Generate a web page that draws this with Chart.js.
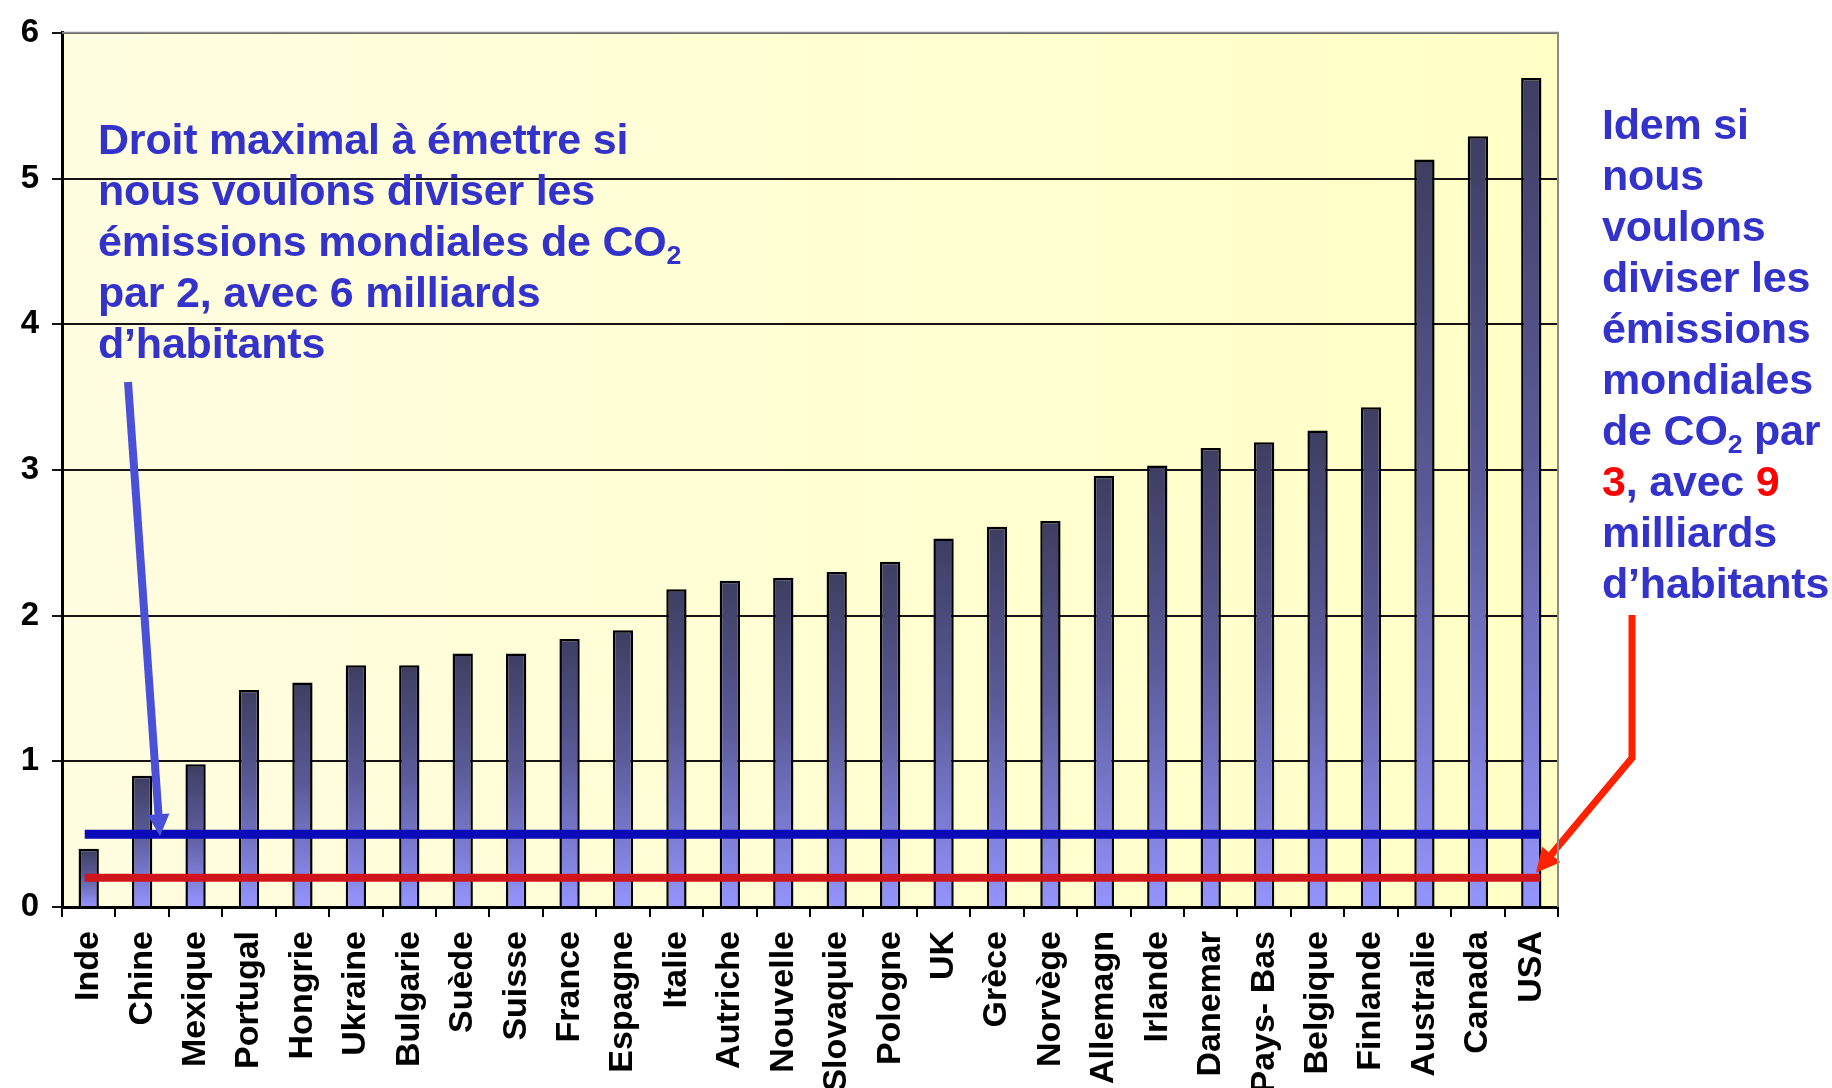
<!DOCTYPE html>
<html lang="fr">
<head>
<meta charset="utf-8">
<title>Émissions de CO2 par habitant</title>
<script src="https://cdn.jsdelivr.net/npm/chart.js@4/dist/chart.umd.min.js"></script>
<style>
  html, body { margin: 0; padding: 0; background: #ffffff; }
  #wrap { position: relative; width: 1832px; height: 1088px; overflow: hidden; }
  canvas { position: absolute; left: 0; top: 0; }
  .note {
    position: absolute;
    font-family: "Liberation Sans", Arial, sans-serif;
    font-weight: bold;
    font-size: 43px;
    letter-spacing: -0.2px;
    line-height: 51px;
    color: #3333cc;
    white-space: nowrap;
  }
  .note sub { font-size: 0.62em; vertical-align: -0.3em; line-height: 0; }
  .red { color: #ff0000; }
</style>
</head>
<body>
<div id="wrap">
  <canvas id="c" width="1832" height="1088"></canvas>
  <div class="note" style="left:98px; top:114px;">
    Droit maximal à émettre si<br>
    nous voulons diviser les<br>
    émissions mondiales de CO<sub>2</sub><br>
    par 2, avec 6 milliards<br>
    d’habitants
  </div>
  <div class="note" style="left:1602px; top:99px;">
    Idem si<br>
    nous<br>
    voulons<br>
    diviser les<br>
    émissions<br>
    mondiales<br>
    de CO<sub>2</sub> par<br>
    <span class="red">3</span>, avec <span class="red">9</span><br>
    milliards<br>
    d’habitants
  </div>
</div>
<script>
// ---- Data ----
const countries = ["Inde", "Chine", "Mexique", "Portugal", "Hongrie", "Ukraine", "Bulgarie", "Suède", "Suisse", "France", "Espagne", "Italie", "Autriche", "Nouvelle", "Slovaquie", "Pologne", "UK", "Grèce", "Norvège", "Allemagn", "Irlande", "Danemar", "Pays- Bas", "Belgique", "Finlande", "Australie", "Canada", "USA"];
const emissions = [0.4, 0.9, 0.98, 1.49, 1.54, 1.66, 1.66, 1.74, 1.74, 1.84, 1.90, 2.18, 2.24, 2.26, 2.30, 2.37, 2.53, 2.61, 2.65, 2.96, 3.03, 3.15, 3.19, 3.27, 3.43, 5.13, 5.29, 5.69];
const yTicks = [0, 1, 2, 3, 4, 5, 6];
const refLevels = [0.5, 0.2];          // division par 2 (6 mds) / par 3 (9 mds)
const refColors = ["#0a0ab8", "#d0141c"];

// ---- Plugins ----
const bgPlugin = {
  id: 'plotBg',
  beforeDraw(chart) {
    const { ctx, chartArea: a } = chart;
    const g = ctx.createLinearGradient(a.left, 0, a.right, 0);
    g.addColorStop(0, '#fffde0');
    g.addColorStop(1, '#ffffc6');
    ctx.save();
    ctx.fillStyle = g;
    ctx.fillRect(a.left, a.top, a.right - a.left, a.bottom - a.top);
    ctx.restore();
  },
  afterDraw(chart) {
    const { ctx, chartArea: a } = chart;
    ctx.save();
    ctx.strokeStyle = '#8c8c8c';
    ctx.lineWidth = 2;
    ctx.beginPath();
    ctx.moveTo(a.left, a.top);
    ctx.lineTo(a.right, a.top);
    ctx.lineTo(a.right, a.bottom);
    ctx.stroke();
    ctx.restore();
  }
};

const refPlugin = {
  id: 'refLines',
  afterDatasetsDraw(chart) {
    const { ctx } = chart;
    const x = chart.scales.x, y = chart.scales.y;
    const x0 = x.getPixelForValue(0) - 4;
    const x1 = x.getPixelForValue(countries.length - 1) + 9;
    ctx.save();
    refLevels.forEach((v, i) => {
      ctx.strokeStyle = refColors[i];
      ctx.lineWidth = i === 0 ? 9 : 8;
      ctx.beginPath();
      const py = y.getPixelForValue(v);
      ctx.moveTo(x0, py);
      ctx.lineTo(x1, py);
      ctx.stroke();
    });

    // Arrows (annotations)
    function arrowHead(fromX, fromY, toX, toY, color, len, half) {
      const ang = Math.atan2(toY - fromY, toX - fromX);
      ctx.fillStyle = color;
      ctx.beginPath();
      ctx.moveTo(toX, toY);
      ctx.lineTo(toX - len * Math.cos(ang) + half * Math.sin(ang), toY - len * Math.sin(ang) - half * Math.cos(ang));
      ctx.lineTo(toX - len * Math.cos(ang) - half * Math.sin(ang), toY - len * Math.sin(ang) + half * Math.cos(ang));
      ctx.closePath();
      ctx.fill();
    }
    // blue arrow
    const bTipX = 160, bTipY = y.getPixelForValue(refLevels[0]) + 2;
    const bAng = Math.atan2(bTipY - 382, bTipX - 128);
    ctx.strokeStyle = '#4a50d8';
    ctx.lineWidth = 8;
    ctx.lineCap = 'butt';
    ctx.beginPath();
    ctx.moveTo(128, 382);
    ctx.lineTo(bTipX - 18 * Math.cos(bAng), bTipY - 18 * Math.sin(bAng));
    ctx.stroke();
    arrowHead(128, 382, bTipX, bTipY, '#4a50d8', 22, 11);

    // red arrow
    const rTipX = 1536, rTipY = y.getPixelForValue(refLevels[1]) - 5;
    const rAng = Math.atan2(rTipY - 758, rTipX - 1632);
    ctx.strokeStyle = '#ff2200';
    ctx.lineWidth = 7;
    ctx.lineJoin = 'miter';
    ctx.beginPath();
    ctx.moveTo(1632, 615);
    ctx.lineTo(1632, 758);
    ctx.lineTo(rTipX - 18 * Math.cos(rAng), rTipY - 18 * Math.sin(rAng));
    ctx.stroke();
    arrowHead(1632, 758, rTipX, rTipY, '#ff2200', 24, 12);
    ctx.restore();
  }
};

// ---- Chart ----
function barGradient(context) {
  const chart = context.chart;
  if (!chart.chartArea || !chart.scales.y) return '#6a6ab0';
  const y = chart.scales.y;
  const v = context.raw;
  const top = y.getPixelForValue(v), bot = y.getPixelForValue(0);
  if (!isFinite(top) || !isFinite(bot) || top === bot) return '#6a6ab0';
  const g = chart.ctx.createLinearGradient(0, top, 0, bot);
  g.addColorStop(0, '#3e3e62');
  g.addColorStop(0.45, '#5a5a98');
  g.addColorStop(1, '#9494ff');
  return g;
}

new Chart(document.getElementById('c'), {
  type: 'bar',
  data: {
    labels: countries,
    datasets: [{
      label: 'Émissions de CO2 par habitant',
      data: emissions,
      backgroundColor: barGradient,
      borderColor: '#000000',
      borderWidth: 2.5,
      borderSkipped: 'bottom',
      categoryPercentage: 1.0,
      barPercentage: 0.38
    }]
  },
  options: {
    responsive: false,
    devicePixelRatio: 1,
    animation: false,
    layout: { padding: { top: 29, right: 274, left: 0, bottom: 0 } },
    plugins: { legend: { display: false }, tooltip: { enabled: false } },
    scales: {
      x: {
        type: 'category',
        offset: true,
        grid: { display: true, offset: true, drawOnChartArea: false, drawTicks: true, tickLength: 10, color: '#000', lineWidth: 2 },
        border: { display: true, color: '#000', width: 3 },
        ticks: {
          autoSkip: false, minRotation: 90, maxRotation: 90, padding: 14,
          color: '#000',
          font: { family: '"Liberation Sans", Arial, sans-serif', weight: 'bold', size: 34 }
        },
        afterFit(s) { s.height = 181; }
      },
      y: {
        min: 0, max: 6,
        afterBuildTicks(s) { s.ticks = yTicks.map(v => ({ value: v })); },
        grid: { color: '#141414', lineWidth: 2, tickLength: 10, drawTicks: true },
        border: { display: true, color: '#000', width: 3 },
        ticks: {
          padding: 13, color: '#000',
          font: { family: '"Liberation Sans", Arial, sans-serif', weight: 'bold', size: 33 }
        },
        afterFit(s) { s.width = 62; }
      }
    }
  },
  plugins: [bgPlugin, refPlugin]
});
</script>
</body>
</html>
